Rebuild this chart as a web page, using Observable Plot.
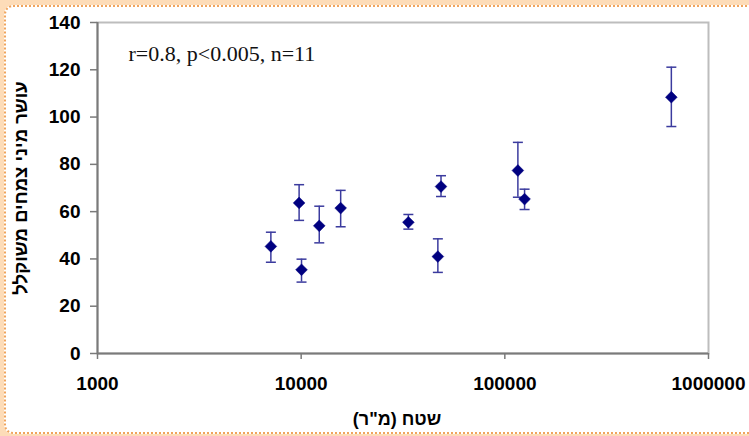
<!DOCTYPE html>
<html><head><meta charset="utf-8">
<script src="https://cdn.jsdelivr.net/npm/d3@7"></script>
<script src="https://cdn.jsdelivr.net/npm/@observablehq/plot@0.6"></script>
<style>
html,body{margin:0;padding:0;background:#fddcb8;width:749px;height:436px;overflow:hidden}
#box{position:absolute;left:4px;top:5px;width:770px;height:425px;background:#fff;border:2px dotted #f0a45c;border-radius:9px}
#chart{position:absolute;left:0;top:0}
</style></head><body><div id="box"></div><div id="chart"></div>
<script>
// data
const area      = [7100, 9770, 10040, 12270, 15630, 33600, 46900, 48600, 115900, 125000, 657000];
const richness  = [45.3, 63.7, 35.4, 54.0, 61.5, 55.5, 41.0, 70.6, 77.4, 65.3, 108.4];
const errLow    = [38.6, 56.3, 30.2, 46.8, 53.6, 52.6, 34.3, 66.4, 66.1, 60.9, 96.0];
const errHigh   = [51.3, 71.4, 39.9, 62.3, 69.0, 58.8, 48.5, 75.2, 89.3, 69.5, 121.1];
const xTicks    = [1000, 10000, 100000, 1000000];
const yTicks    = [0, 20, 40, 60, 80, 100, 120, 140];
const statsText = ["r=0.8, p<0.005, n=11"];
const yTitle    = ["עושר מיני צמחים משוקלל"];
const xTitle    = ["\u202Bשטח (מ\"ר)\u202C"];

const data = area.map((a, i) => ({area: a, value: richness[i], lo: errLow[i], hi: errHigh[i]}));

const cap = {draw(ctx) { ctx.moveTo(-5, 0); ctx.lineTo(5, 0); }};
const errColor = "#3b3b9e";

const chart = Plot.plot({
  width: 749, height: 436,
  marginLeft: 97, marginRight: 41, marginTop: 22, marginBottom: 83,
  style: {background: "transparent", fontFamily: "'Liberation Sans', Arial, sans-serif", color: "#000"},
  x: {type: "log", domain: [1000, 1000000]},
  y: {domain: [0, 140]},
  marks: [
    Plot.frame({stroke: "#bdbdbd", strokeWidth: 2}),
    Plot.ruleX([1000], {stroke: "#7a7a7a", strokeWidth: 2}),
    Plot.ruleY([0], {stroke: "#7a7a7a", strokeWidth: 2}),
    Plot.axisY(yTicks, {tickSize: 7, tickPadding: 10, fontSize: 19, fontWeight: "bold", label: null, stroke: "#7a7a7a", strokeWidth: 1.5}),
    Plot.axisX(xTicks, {tickSize: 6, tickPadding: 17, fontSize: 19, fontWeight: "bold", label: null, tickFormat: d => String(d), stroke: "#7a7a7a", strokeWidth: 1.5}),
    Plot.ruleX(data, {x: "area", y1: "lo", y2: "hi", stroke: errColor, strokeWidth: 1.5}),
    Plot.dot(data, {x: "area", y: "lo", symbol: cap, stroke: errColor, strokeWidth: 1.5, r: 5}),
    Plot.dot(data, {x: "area", y: "hi", symbol: cap, stroke: errColor, strokeWidth: 1.5, r: 5}),
    Plot.dot(data, {x: "area", y: "value", symbol: "diamond2", r: 5.3, fill: "#000080", stroke: "#000080", strokeWidth: 0.5}),
    Plot.text(statsText, {frameAnchor: "top-left", dx: 31, dy: 23, textAnchor: "start", fontFamily: "'Liberation Serif', 'Times New Roman', serif", fontSize: 22, fill: "#111"}),
    Plot.text(yTitle, {frameAnchor: "left", dx: -76, rotate: -90, textAnchor: "middle", fontSize: 18.5, fontWeight: "bold", fill: "#000"}),
    Plot.text(xTitle, {frameAnchor: "bottom", dx: -6, dy: 71, fontSize: 18, fontWeight: "bold", fill: "#000"})
  ]
});
document.getElementById("chart").appendChild(chart);
</script>
</body></html>
